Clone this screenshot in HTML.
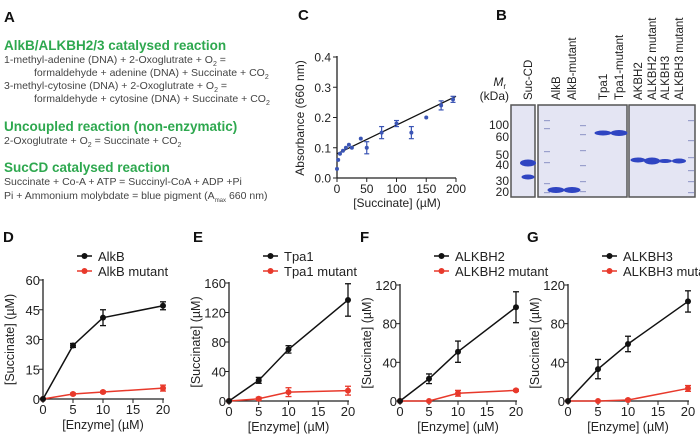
<!DOCTYPE html>
<html><head><meta charset="utf-8"><style>
html,body{margin:0;padding:0;background:#fff;}
svg{display:block;font-family:"Liberation Sans",Arial,sans-serif;}
</style></head><body>
<svg id="fig" width="700" height="438" viewBox="0 0 700 438" xmlns="http://www.w3.org/2000/svg">
<g font-weight="bold" font-size="15" fill="#111">
<text x="4" y="22">A</text>
<text x="298" y="20">C</text>
<text x="496" y="20">B</text>
<text x="3" y="242">D</text>
<text x="193" y="242">E</text>
<text x="360" y="242">F</text>
<text x="527" y="242">G</text>
</g>
<g font-size="10.5" fill="#444">
<text x="4" y="50" font-size="13.5" font-weight="bold" fill="#2ea84f">AlkB/ALKBH2/3 catalysed reaction</text>
<text x="4" y="63">1-methyl-adenine (DNA) + 2-Oxoglutrate + O<tspan font-size="7" dy="3">2</tspan><tspan dy="-3"> =</tspan></text>
<text x="34" y="76">formaldehyde + adenine (DNA) + Succinate + CO<tspan font-size="7" dy="3">2</tspan></text>
<text x="4" y="89">3-methyl-cytosine (DNA) + 2-Oxoglutrate + O<tspan font-size="7" dy="3">2</tspan><tspan dy="-3"> =</tspan></text>
<text x="34" y="102">formaldehyde + cytosine (DNA) + Succinate + CO<tspan font-size="7" dy="3">2</tspan></text>
<text x="4" y="131" font-size="13.5" font-weight="bold" fill="#2ea84f">Uncoupled reaction (non-enzymatic)</text>
<text x="4" y="144">2-Oxoglutrate + O<tspan font-size="7" dy="3">2</tspan><tspan dy="-3">  =  Succinate + CO</tspan><tspan font-size="7" dy="3">2</tspan></text>
<text x="4" y="172" font-size="13.5" font-weight="bold" fill="#2ea84f">SucCD catalysed reaction</text>
<text x="4" y="185">Succinate + Co-A + ATP = Succinyl-CoA + ADP +Pi</text>
<text x="4" y="199">Pi + Ammonium molybdate = blue pigment (A<tspan font-size="6" dy="3">max</tspan><tspan dy="-3"> 660 nm)</tspan></text>
</g>
<g id="panelC"></g>
<g id="gel"></g>
<g id="panels"></g>
</svg>
<script>
const NS="http://www.w3.org/2000/svg";
function mk(parent,tag,attrs,text){const e=document.createElementNS(NS,tag);for(const k in attrs)e.setAttribute(k,attrs[k]);if(text!==undefined)e.textContent=text;parent.appendChild(e);return e;}

// Panel C data
const cX=[0,2,5,10,15,20,25,40,50,75,100,125,150,175,195];
const cY=[0.03,0.06,0.08,0.09,0.1,0.11,0.1,0.13,0.1,0.15,0.18,0.15,0.2,0.24,0.26];
const cErr=[0,0,0,0,0,0,0,0,0.02,0.02,0.01,0.02,0,0.015,0.01];
const cFit=[0.08,0.27];
const cXTicks=[0,50,100,150,200];
const cYTicks=[0,0.1,0.2,0.3,0.4];

(function(){
 const g=document.getElementById('panelC');
 const x=v=>337+v/200*119, y=v=>178-v/0.4*121;
 mk(g,'line',{x1:337,y1:56,x2:337,y2:178,stroke:'#222','stroke-width':1.3});
 mk(g,'line',{x1:337,y1:178,x2:456,y2:178,stroke:'#222','stroke-width':1.3});
 cYTicks.forEach(t=>{mk(g,'line',{x1:333,y1:y(t),x2:337,y2:y(t),stroke:'#222'});
  const tx=mk(g,'text',{x:331,y:y(t)+4.5,'text-anchor':'end','font-size':12,fill:'#222'},t.toFixed(1));
  });
 cXTicks.forEach(t=>{mk(g,'line',{x1:x(t),y1:178,x2:x(t),y2:182,stroke:'#222'});
  const tx=mk(g,'text',{x:x(t),y:193,'text-anchor':'middle','font-size':12,fill:'#222'},t);
  });
 const yt=mk(g,'text',{transform:'translate(304,118) rotate(-90)','text-anchor':'middle','font-size':12,fill:'#222'},'Absorbance (660 nm)');
 
 const xt=mk(g,'text',{x:397,y:207,'text-anchor':'middle','font-size':12,fill:'#222'},'[Succinate] (\u00b5M)');
 
 const fl=mk(g,'line',{x1:x(0),y1:y(cFit[0]),x2:x(200),y2:y(cFit[1]),stroke:'#111','stroke-width':1.3});
 
 cX.forEach((v,i)=>{
  if(cErr[i]>0){mk(g,'line',{x1:x(v),y1:y(cY[i]-cErr[i]),x2:x(v),y2:y(cY[i]+cErr[i]),stroke:'#3b55b5','stroke-width':1.2});
   [cY[i]-cErr[i],cY[i]+cErr[i]].forEach(e=>mk(g,'line',{x1:x(v)-2.5,y1:y(e),x2:x(v)+2.5,y2:y(e),stroke:'#3b55b5','stroke-width':1.2}));}
  const c=mk(g,'circle',{cx:x(v),cy:y(cY[i]),r:2,fill:'#3b55b5'});
  
 });
})();

// Gel
const gelLanes=['Suc-CD','AlkB','AlkB-mutant','Tpa1','Tpa1-mutant','AKBH2','ALKBH2 mutant','ALKBH3','ALKBH3 mutant'];
const gelMW=[100,60,50,40,30,20];
(function(){
 const g=document.getElementById('gel');
 const boxes=[[511,105,24,92],[538,105,89,92],[629,105,66,92]];
 boxes.forEach(b=>{const r=mk(g,'rect',{x:b[0],y:b[1],width:b[2],height:b[3],fill:'#e4e5f3',stroke:'#555','stroke-width':1.5});
  });
 const mwY=[125,137,155,165,181,192];
 gelMW.forEach((m,i)=>{const t=mk(g,'text',{x:509,y:mwY[i]+4,'text-anchor':'end','font-size':12,fill:'#222'},m);
  });
 mk(g,'text',{x:506,y:86,'text-anchor':'end','font-size':12,'font-style':'italic',fill:'#222'},'M').innerHTML='M<tspan font-size="8" dy="3" font-style="normal">r</tspan>';
 mk(g,'text',{x:509,y:100,'text-anchor':'end','font-size':12,fill:'#222'},'(kDa)');
 const laneX=[528,556,572,603,619,638,652,665,679];
 gelLanes.forEach((l,i)=>{const t=mk(g,'text',{transform:`translate(${laneX[i]+4},100) rotate(-90)`,'font-size':11.5,fill:'#222'},l);
  });
 [[547,[120,128,151,162,183,192]],[583,[125,134,150,165,181,191]],[691,[120,140,157,170,181,192]]].forEach(a=>a[1].forEach(yy=>mk(g,'rect',{x:a[0]-3,y:yy,width:6,height:1.2,fill:'#9aa0cc'})));
 const bands=[[528,163,14,7],[528,177,11,5],[556,190,15,6],[572,190,15,6],[603,133,15,5],[619,133,15,6],[638,160,13,5],[652,161,14,7],[665,161,12,4],[679,161,12,5]];
 bands.forEach(b=>{const e=mk(g,'ellipse',{cx:b[0],cy:b[1],rx:b[2]/2+1,ry:b[3]/2,fill:'#2f45c2'});
  });
})();

// Panels D-G
const enzX=[0,5,10,20];
const dWT=[0,27,41,47], dWTErr=[0,1,4,2], dMut=[0,2.5,3.5,5.5], dMutErr=[0,0.5,0.5,1.5];
const eWT=[0,28,70,137], eWTErr=[0,4,5,22], eMut=[0,3,12,14], eMutErr=[0,2,6,6];
const fWT=[0,23,51,97], fWTErr=[0,5,11,16], fMut=[0,0,8,11], fMutErr=[0,0,3,1];
const gWT=[0,33,59,103], gWTErr=[0,10,8,11], gMut=[0,0,1,13], gMutErr=[0,0,1,3];
const dTicks=[0,15,30,45,60], eTicks=[0,40,80,120,160], fTicks=[0,40,80,120], gTicks=[0,40,80,120];
const xTicks=[0,5,10,15,20];

function panel(id,ax,x20,y0,ytop,ymax,yticks,wt,wte,mu,mue,name1,name2){
 const g=mk(document.getElementById('panels'),'g',{});
 
 const x=v=>ax+v/20*(x20-ax), y=v=>y0-v/ymax*(y0-ytop);
 mk(g,'line',{x1:ax,y1:ytop-1,x2:ax,y2:y0,stroke:'#222','stroke-width':1.3});
 mk(g,'line',{x1:ax,y1:y0,x2:x20+1,y2:y0,stroke:'#222','stroke-width':1.3});
 yticks.forEach(t=>{mk(g,'line',{x1:ax-4,y1:y(t),x2:ax,y2:y(t),stroke:'#222'});
  const tx=mk(g,'text',{x:ax-3,y:y(t)+5,'text-anchor':'end','font-size':13,fill:'#222'},t);
  });
 xTicks.forEach(t=>{mk(g,'line',{x1:x(t),y1:y0,x2:x(t),y2:y0+4,stroke:'#222'});
  const tx=mk(g,'text',{x:x(t),y:y0+15,'text-anchor':'middle','font-size':13,fill:'#222'},t);
  });
 const xt=mk(g,'text',{x:(ax+x20)/2,y:y0+30,'text-anchor':'middle','font-size':12.5,fill:'#222'},'[Enzyme]  (\u00b5M)');
 
 const yt=mk(g,'text',{transform:`translate(${ax-29},${(y0+ytop)/2}) rotate(-90)`,'text-anchor':'middle','font-size':12.5,fill:'#222'},'[Succinate] (\u00b5M)');
 
 [[mu,mue,'#e8392b','mutant'],[wt,wte,'#111','wt']].forEach(s=>{
  const pl=mk(g,'polyline',{points:enzX.map((v,i)=>x(v)+','+y(s[0][i])).join(' '),fill:'none',stroke:s[2],'stroke-width':1.5});
  
  enzX.forEach((v,i)=>{
   if(s[1][i]>0){const a=y(s[0][i]-s[1][i]),b=y(s[0][i]+s[1][i]);
    mk(g,'line',{x1:x(v),y1:a,x2:x(v),y2:b,stroke:s[2],'stroke-width':1.3});
    mk(g,'line',{x1:x(v)-3,y1:a,x2:x(v)+3,y2:a,stroke:s[2],'stroke-width':1.3});
    mk(g,'line',{x1:x(v)-3,y1:b,x2:x(v)+3,y2:b,stroke:s[2],'stroke-width':1.3});}
   const c=mk(g,'circle',{cx:x(v),cy:y(s[0][i]),r:3,fill:s[2]});
   
  });
 });
 const lx=ax+34;
 [[name1,'#111',256],[name2,'#e8392b',271]].forEach((l,i)=>{
  const lg=mk(g,'g',{});
  mk(lg,'line',{x1:lx,y1:l[2],x2:lx+15,y2:l[2],stroke:l[1],'stroke-width':1.5});
  mk(lg,'circle',{cx:lx+7.5,cy:l[2],r:3,fill:l[1]});
  mk(lg,'text',{x:lx+21,y:l[2]+5,'font-size':13,fill:'#222'},l[0]);
 });
}
panel('d',43,163,399,280,60,dTicks,dWT,dWTErr,dMut,dMutErr,'AlkB','AlkB mutant');
panel('e',229,348,401,283,160,eTicks,eWT,eWTErr,eMut,eMutErr,'Tpa1','Tpa1 mutant');
panel('f',400,516,401,285,120,fTicks,fWT,fWTErr,fMut,fMutErr,'ALKBH2','ALKBH2 mutant');
panel('g',568,688,401,285,120,gTicks,gWT,gWTErr,gMut,gMutErr,'ALKBH3','ALKBH3 mutant');
</script>
</body></html>
